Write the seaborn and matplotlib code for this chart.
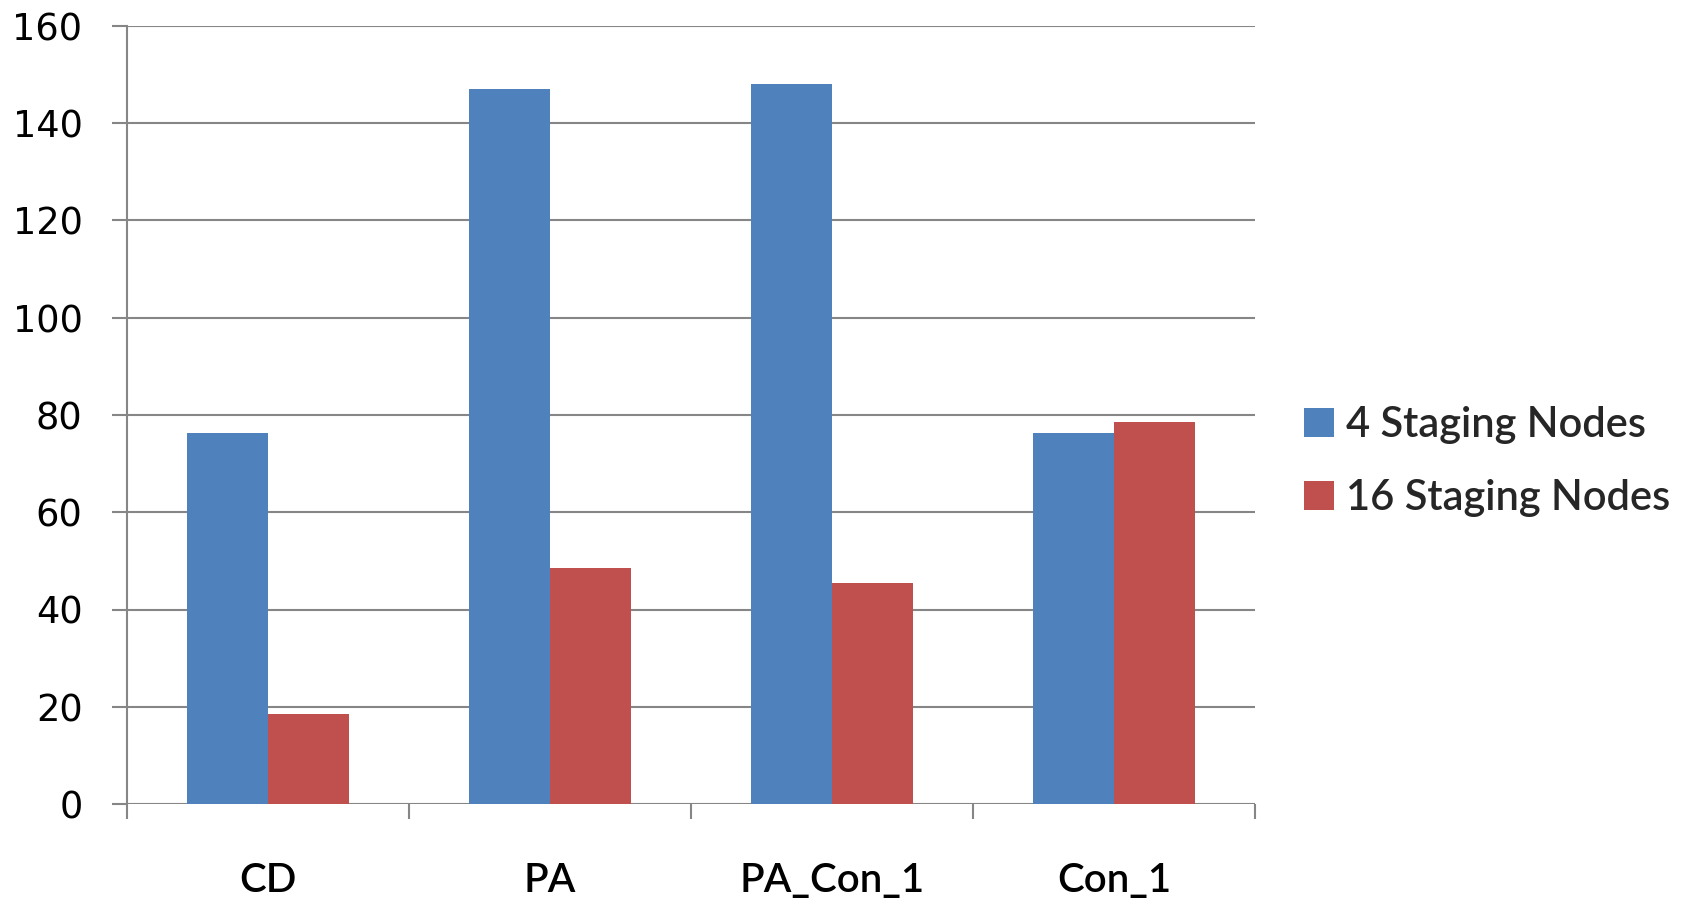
import matplotlib
matplotlib.use("Agg")
import matplotlib.pyplot as plt
import seaborn as sns
import pandas as pd
from matplotlib.ticker import FixedLocator, NullFormatter

# Chart values
categories = ["CD", "PA", "PA_Con_1", "Con_1"]
series_names = ["4 Staging Nodes", "16 Staging Nodes"]
nodes_4 = [76.4, 147.0, 148.1, 76.4]
nodes_16 = [18.5, 48.5, 45.4, 78.5]
y_ticks = [0, 20, 40, 60, 80, 100, 120, 140, 160]

colors = ["#4F81BD", "#C0504D"]
grid_gray = "#868686"

df = pd.DataFrame({
    "category": categories * 2,
    "series": [series_names[0]] * len(categories) + [series_names[1]] * len(categories),
    "value": nodes_4 + nodes_16,
})

sns.set_theme(style="white")
plt.rcParams["font.family"] = ["DejaVu Sans"]

fig = plt.figure(figsize=(17, 9.08), dpi=100)
ax = fig.add_axes([127 / 1700, 1 - 804 / 908, (1255 - 127) / 1700, (804 - 26) / 908])

sns.barplot(data=df, x="category", y="value", hue="series", order=categories,
            hue_order=series_names, palette=colors, width=0.572,
            saturation=1, edgecolor="none", linewidth=0, ax=ax)

ax.set_xlim(-0.5, len(categories) - 0.5)
ax.set_ylim(0, 160)
ax.set_xlabel("")
ax.set_ylabel("")

# Horizontal gridlines behind the bars
ax.set_axisbelow(True)
ax.yaxis.grid(True, color=grid_gray, linewidth=1.5)
ax.xaxis.grid(False)

for side in ["top", "right", "bottom"]:
    ax.spines[side].set_visible(False)
ax.spines["left"].set_color(grid_gray)
ax.spines["left"].set_linewidth(1.5)

# Y axis ticks and labels
ax.set_yticks(y_ticks)
ax.set_yticklabels([str(t) for t in y_ticks])
ax.tick_params(axis="y", which="major", left=True, length=11, width=1.5,
               color=grid_gray, pad=21, labelsize=26.5, labelcolor="black")

# X axis: tick marks at category boundaries, labels centred under each group
ax.xaxis.set_major_locator(FixedLocator([i - 0.5 for i in range(len(categories) + 1)]))
ax.xaxis.set_major_formatter(NullFormatter())
ax.xaxis.set_minor_locator(FixedLocator(list(range(len(categories)))))
ax.set_xticklabels(categories, minor=True)
ax.tick_params(axis="x", which="major", bottom=True, length=11, width=1.5, color=grid_gray)
ax.tick_params(axis="x", which="minor", bottom=True, length=0, pad=42,
               labelsize=29, labelcolor="black")
for lbl in ax.get_xticklabels(minor=True):
    lbl.set_family(["Lato", "DejaVu Sans"])
    lbl.set_weight("semibold")

# Legend to the right of the plot
handles, labels = ax.get_legend_handles_labels()
ax.legend(handles, labels, loc="center left", bbox_to_anchor=(1.029, 0.44),
          frameon=False,
          prop={"family": ["Lato", "DejaVu Sans"], "size": 30, "weight": "semibold"},
          handlelength=0.7, handleheight=0.7, handletextpad=0.3,
          labelspacing=0.85, borderaxespad=0)

fig.savefig("out.png", dpi=100, facecolor="white")
